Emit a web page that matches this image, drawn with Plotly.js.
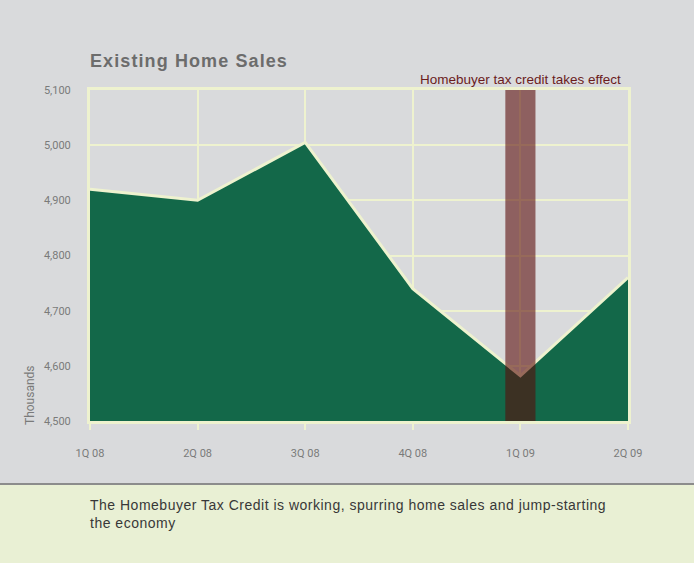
<!DOCTYPE html>
<html>
<head>
<meta charset="utf-8">
<script src="https://cdn.plot.ly/plotly-3.0.1.min.js"></script>
<style>
  html, body { margin: 0; padding: 0; background: #d9dadc; }
  #chart { width: 694px; height: 563px; }
</style>
</head>
<body>
<div id="chart"></div>
<script>
// ---- data ----
const quarters = ['1Q 08', '2Q 08', '3Q 08', '4Q 08', '1Q 09', '2Q 09'];
const homeSales = [4920, 4900, 5005, 4740, 4582, 4760]; // thousands
const yTickVals = [4500, 4600, 4700, 4800, 4900, 5000, 5100];
const yTickText = ['4,500', '4,600', '4,700', '4,800', '4,900', '5,000', '5,100'];
const creditQuarter = '1Q 09';
const titleText = 'Existing Home Sales';
const bandLabel = 'Homebuyer tax credit takes effect';
const yAxisLabel = 'Thousands';
const footerLines = ['The Homebuyer Tax Credit is working, spurring home sales and jump-starting', 'the economy'];

const pale = '#eef2cf';
const greenFill = '#136849';
const bandIdx = quarters.indexOf(creditQuarter);

const trace = {
  type: 'scatter',
  mode: 'lines',
  x: quarters,
  y: homeSales,
  fill: 'tozeroy',
  fillcolor: greenFill,
  line: { color: pale, width: 3 },
  hoverinfo: 'x+y'
};

const layout = {
  width: 694,
  height: 563,
  margin: { l: 90, r: 66, t: 90, b: 142 },
  paper_bgcolor: '#d9dadc',
  plot_bgcolor: '#d9dadc',
  showlegend: false,
  title: {
    text: '<b><span style="letter-spacing:1.1px">' + titleText + '</span></b>',
    x: 0, xref: 'paper', xanchor: 'left',
    y: 1 - 61 / 563, yref: 'container', yanchor: 'middle',
    font: { family: 'Liberation Sans, Arial, sans-serif', size: 18, color: '#6c6c6c' }
  },
  xaxis: {
    type: 'category',
    range: [0, quarters.length - 1],
    showgrid: true, gridcolor: pale, gridwidth: 2,
    showline: true, linecolor: pale, linewidth: 3, mirror: true,
    ticks: 'outside', ticklen: 6, tickcolor: pale, tickwidth: 2,
    ticklabelstandoff: 14,
    tickfont: { family: 'Liberation Sans Narrow, Roboto, sans-serif', size: 11, color: '#7a7a7a' },
    zeroline: false, fixedrange: true
  },
  yaxis: {
    range: [4500, 5100],
    tickvals: yTickVals, ticktext: yTickText,
    showgrid: true, gridcolor: pale, gridwidth: 2,
    showline: true, linecolor: pale, linewidth: 3, mirror: true,
    ticks: 'outside', ticklen: 14, tickcolor: 'rgba(0,0,0,0)',
    tickfont: { family: 'Liberation Sans Narrow, Roboto, sans-serif', size: 11, color: '#7a7a7a' },
    zeroline: false, fixedrange: true
  },
  shapes: [
    { // tax credit band
      type: 'rect', layer: 'above',
      xref: 'x', yref: 'paper',
      x0: bandIdx - 0.14, x1: bandIdx + 0.14, y0: 0, y1: 1,
      fillcolor: 'rgba(90,10,8,0.59)', line: { width: 0 }
    },
    { // footer panel
      type: 'rect', layer: 'below',
      xref: 'paper', yref: 'paper',
      x0: -0.2, x1: 1.2, y0: -0.19, y1: -0.5,
      fillcolor: '#e9f0d4', line: { width: 0 }
    },
    { // footer separator
      type: 'line', layer: 'below',
      xref: 'paper', yref: 'paper',
      x0: -0.2, x1: 1.2, y0: -0.19, y1: -0.19,
      line: { color: '#8c8c8c', width: 2 }
    }
  ],
  annotations: [
    {
      text: bandLabel,
      xref: 'x', yref: 'paper', x: bandIdx, y: 1, yanchor: 'bottom', yshift: 1,
      showarrow: false,
      font: { family: 'Liberation Sans, Arial, sans-serif', size: 13.5, color: '#6b1c1c' }
    },
    {
      text: yAxisLabel,
      xref: 'paper', yref: 'paper', x: (30 - 90) / 538, y: (421 - 395) / 331,
      xanchor: 'center', yanchor: 'middle', textangle: -90,
      showarrow: false,
      font: { family: 'Liberation Sans Narrow, Roboto, sans-serif', size: 12, color: '#7a7a7a' }
    },
    {
      text: footerLines.map(s => '<span style="letter-spacing:0.5px">' + s + '</span>').join('<br>'),
      xref: 'paper', yref: 'paper', x: -0.004, y: (421 - 495) / 331,
      xanchor: 'left', yanchor: 'top', align: 'left',
      showarrow: false,
      font: { family: 'Liberation Sans, Arial, sans-serif', size: 14, color: '#383838' }
    }
  ]
};

Plotly.newPlot('chart', [trace], layout, { displayModeBar: false, staticPlot: true });
</script>
</body>
</html>
